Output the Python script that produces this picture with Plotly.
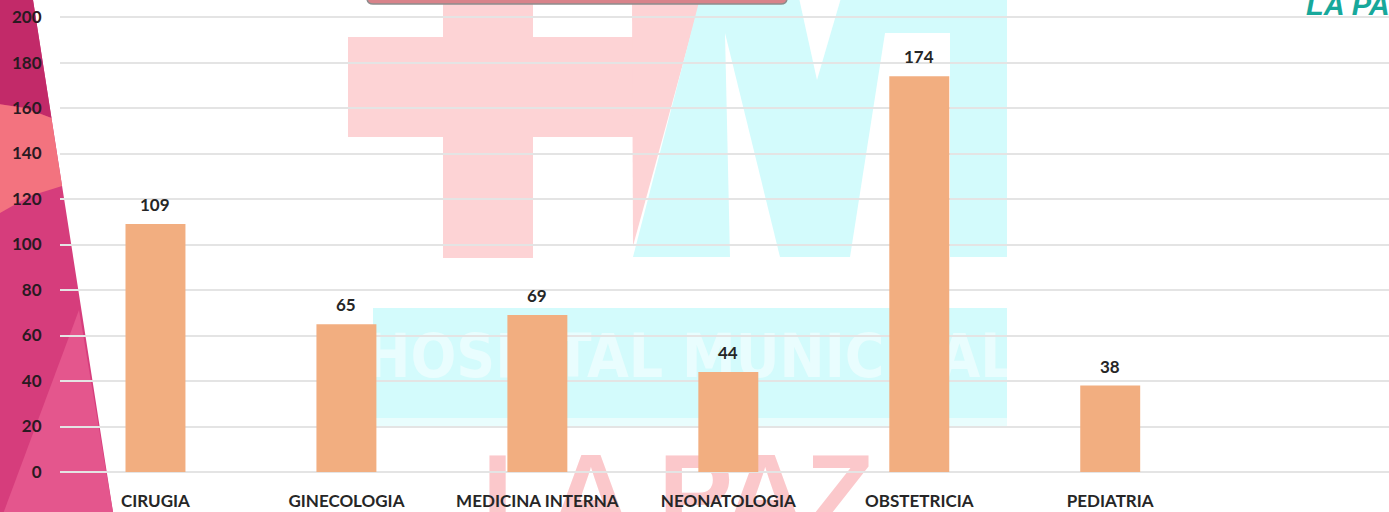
import plotly.graph_objects as go

# chart data
categories = ["CIRUGIA", "GINECOLOGIA", "MEDICINA INTERNA", "NEONATOLOGIA", "OBSTETRICIA", "PEDIATRIA"]
values = [109, 65, 69, 44, 174, 38]
y_ticks = [0, 20, 40, 60, 80, 100, 120, 140, 160, 180, 200]

W, H = 1389, 512
PLOT_L, PLOT_B = 60, 472   # left edge and bottom edge of the bar plot, in page pixels

BAR = "#f2ae80"
TXT = "#262626"
CYAN = "#d3fbfc"
PINK = "#fdd3d5"


def poly(points, color, layer="below", line=None):
    # decoration path in page pixels (base axes are mapped 1:1 to the page)
    d = " ".join(("M" if i == 0 else "L") + f"{x},{y}" for i, (x, y) in enumerate(points)) + " Z"
    return dict(type="path", path=d, xref="x", yref="y", fillcolor=color,
                line=line or dict(width=0), layer=layer)


def edge(y):
    return 33 + 80 * y / 512


shapes = [
    # left decoration
    poly([(-2, -2), (edge(-2), -2), (edge(514), 514), (-2, 514)], "#d63d7c"),
    poly([(-2, -2), (edge(-2), -2), (edge(118), 118), (25, 108), (-2, 104)], "#c22a69"),
    poly([(-2, 104), (25, 108), (edge(118), 118), (edge(186), 186), (30, 196), (-2, 214)], "#f3737f"),
    poly([(79, 310), (3, 514), (edge(514), 514)], "#e4568d"),
    # watermark: cross
    poly([(443, -2), (533, -2), (533, 258), (443, 258)], PINK),
    poly([(348, 37), (640, 37), (640, 137), (348, 137)], PINK),
    poly([(632, -2), (701, -2), (633, 246)], PINK),
    # watermark: M
    poly([(633, 257), (700, -2), (1007, -2), (1007, 257)], CYAN),
    poly([(725, 33), (780, 257), (730, 257)], "#ffffff"),
    poly([(799, -2), (841, -2), (817, 80)], "#ffffff"),
    poly([(885, 33), (950, 33), (950, 257), (850, 257)], "#ffffff"),
    # watermark band
    poly([(373, 308), (1007, 308), (1007, 418), (373, 418)], CYAN),
    poly([(373, 418), (1007, 418), (1007, 426), (373, 426)], "#e9fdfd"),
    # title box peeking in at the top
    dict(type="path", xref="x", yref="y", layer="above",
         path="M367,-30 L367,-2 Q367,4 373,4 L781,4 Q787,4 787,-2 L787,-30 Z",
         fillcolor="#d8838a", line=dict(color="#8d8d8d", width=1.5)),
]

fig = go.Figure()

# watermark texts on the base subplot, so the bar subplot draws over them
fig.add_trace(go.Scatter(
    x=[690], y=[362], mode="text", text=["HOSPITAL MUNICIPAL"],
    textfont=dict(family="DejaVu Sans Condensed, Liberation Sans Narrow, sans-serif",
                  size=60, color="rgba(255,255,255,0.5)", weight="bold"),
    cliponaxis=False, hoverinfo="skip", showlegend=False,
))
fig.add_trace(go.Scatter(
    x=[678], y=[504], mode="text", text=["LA PAZ"],
    textfont=dict(family="Liberation Sans, Arial, sans-serif", size=112,
                  color="#fbc8cb", weight="bold"),
    cliponaxis=False, hoverinfo="skip", showlegend=False,
))

fig.add_trace(go.Bar(
    x=categories, y=values, width=0.314, marker=dict(color=BAR, line=dict(width=0)),
    xaxis="x2", yaxis="y2", hoverinfo="x+y", showlegend=False,
))

annotations = [
    dict(x=c, y=v, xref="x2", yref="y2", text=str(v), showarrow=False,
         yanchor="bottom", yshift=7,
         font=dict(family="Lato, sans-serif", size=17, color=TXT, weight="bold"))
    for c, v in zip(categories, values)
]
annotations.append(dict(
    x=1304, y=5, xref="x", yref="y", text="<i>LA PAZ</i>",
    showarrow=False, xanchor="left", yanchor="middle",
    font=dict(family="Liberation Sans, sans-serif", size=29, color="#17a89b", weight="bold"),
))

fig.update_layout(
    width=W, height=H,
    margin=dict(l=0, r=0, t=0, b=0, pad=0, autoexpand=False),
    paper_bgcolor="white", plot_bgcolor="rgba(0,0,0,0)",
    shapes=shapes, annotations=annotations,
    xaxis=dict(domain=[0, 1], range=[0, W], visible=False, fixedrange=True, automargin=False),
    yaxis=dict(domain=[0, 1], range=[H, 0], visible=False, fixedrange=True, automargin=False),
    xaxis2=dict(domain=[PLOT_L / W, 1], anchor="y2", type="category", range=[-0.5, 6.46],
                showgrid=False, showline=False, zeroline=False, automargin=False,
                ticks="outside", ticklen=14, tickcolor="rgba(0,0,0,0)",
                tickfont=dict(family="Lato, sans-serif", size=17, color=TXT, weight="bold")),
    yaxis2=dict(domain=[(H - PLOT_B) / H, 1], anchor="x2", range=[0, 207.5], tickvals=y_ticks,
                showgrid=True, gridcolor="#e4e4e4", gridwidth=1.5, automargin=False,
                zeroline=True, zerolinecolor="#e4e4e4", zerolinewidth=1.5, showline=False,
                ticks="outside", ticklen=14, tickcolor="rgba(0,0,0,0)",
                tickfont=dict(family="Lato, sans-serif", size=17, color="#2a1a22", weight="bold")),
)

fig.write_html("out.html", config={"displayModeBar": False},
               post_script="document.body.style.margin='0px';")
